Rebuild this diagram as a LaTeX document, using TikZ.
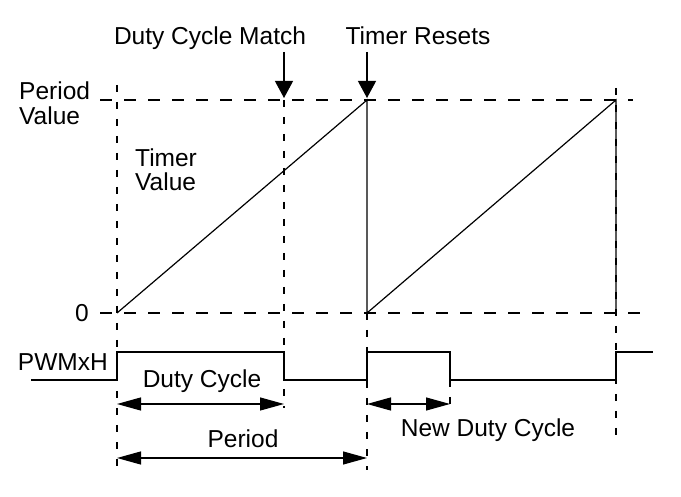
\documentclass[tikz,border=0pt]{standalone}
\usepackage{fontspec}
\setmainfont{Liberation Sans}
\usetikzlibrary{arrows.meta}
\begin{document}
\begin{tikzpicture}[x=1pt,y=-1pt,
  lbl/.style={inner sep=0pt, font=\fontsize{24.5}{25}\selectfont},
  sig/.style={line width=1.2pt, line join=miter},
  hdash/.style={line width=1.2pt, dash pattern=on 12pt off 12pt},
  vdash/.style={line width=1.2pt, dash pattern=on 7pt off 10pt},
  dnarrow/.style={line width=1.2pt, -{Triangle[length=17pt,width=18pt]}},
  dimarrow/.style={line width=1.2pt, {Triangle[length=24pt,width=13pt]}-{Triangle[length=24pt,width=13pt]}}]
\useasboundingbox (0,0) rectangle (681,497);
% key coordinates
\coordinate (pvL) at (100,100); \coordinate (pvR) at (633,100);
\coordinate (zL) at (100,313);  \coordinate (zR) at (649,313);
\coordinate (a1) at (117,85);  \coordinate (b1) at (117,467);
\coordinate (a2) at (284,100); \coordinate (b2) at (284,408);
\coordinate (a3) at (367,313); \coordinate (b3) at (367,470);
\coordinate (a4) at (450,380); \coordinate (b4) at (450,408);
\coordinate (a5) at (616,88);  \coordinate (b5) at (616,442);
\coordinate (r1s) at (117,313); \coordinate (r1e) at (367,100);
\coordinate (r2s) at (367,313); \coordinate (r2e) at (616,100);
\coordinate (r2b) at (616,313);
% dashed guides
\draw[hdash] (pvL) -- (pvR);
\draw[hdash] (zL) -- (zR);
\draw[vdash] (a1) -- (b1);
\draw[vdash] (a2) -- (b2);
\draw[vdash] (a3) -- (b3);
\draw[vdash] (a4) -- (b4);
\draw[vdash] (a5) -- (b5);
% timer ramps
\draw[sig] (r1s) -- (r1e) -- (r2s) -- (r2e) -- (r2b);
% PWM signal
\coordinate (p0) at (31,380);
\draw[sig] (p0) -- (117,380) -- (117,352) -- (284,352) -- (284,380) -- (367,380)
  -- (367,352) -- (450,352) -- (450,380) -- (616,380) -- (616,352) -- (653,352);
% labels
\node[lbl, anchor=base] (dcm) at (210,45) {Duty Cycle Match};
\node[lbl, anchor=base] (tr) at (418,45) {Timer Resets};
\node[lbl, anchor=base west] (pv1) at (19,100) {Period};
\node[lbl, anchor=base west] (pv2) at (19,125) {Value};
\node[lbl, anchor=base west] (tv1) at (135,167) {Timer};
\node[lbl, anchor=base west] (tv2) at (135,191) {Value};
\node[lbl, anchor=base] (zero) at (82,322) {0};
\node[lbl, anchor=base east] (pwm) at (108,371) {PWMxH};
\node[lbl, anchor=base] (dc) at (202,388) {Duty Cycle};
\node[lbl, anchor=base] (per) at (243,447) {Period};
\node[lbl, anchor=base] (ndc) at (488,437) {New Duty Cycle};
% event arrows
\coordinate (m1) at (284,52); \coordinate (m2) at (284,98);
\coordinate (t1) at (367,52); \coordinate (t2) at (367,98);
\draw[dnarrow] (m1) -- (m2);
\draw[dnarrow] (t1) -- (t2);
% dimension arrows
\coordinate (d1) at (117,404); \coordinate (d2) at (284,404);
\coordinate (e1) at (117,458); \coordinate (e2) at (367,458);
\coordinate (f1) at (367,404); \coordinate (f2) at (450,404);
\draw[dimarrow] (d1) -- (d2);
\draw[dimarrow] (e1) -- (e2);
\draw[dimarrow] (f1) -- (f2);
\end{tikzpicture}
\end{document}
